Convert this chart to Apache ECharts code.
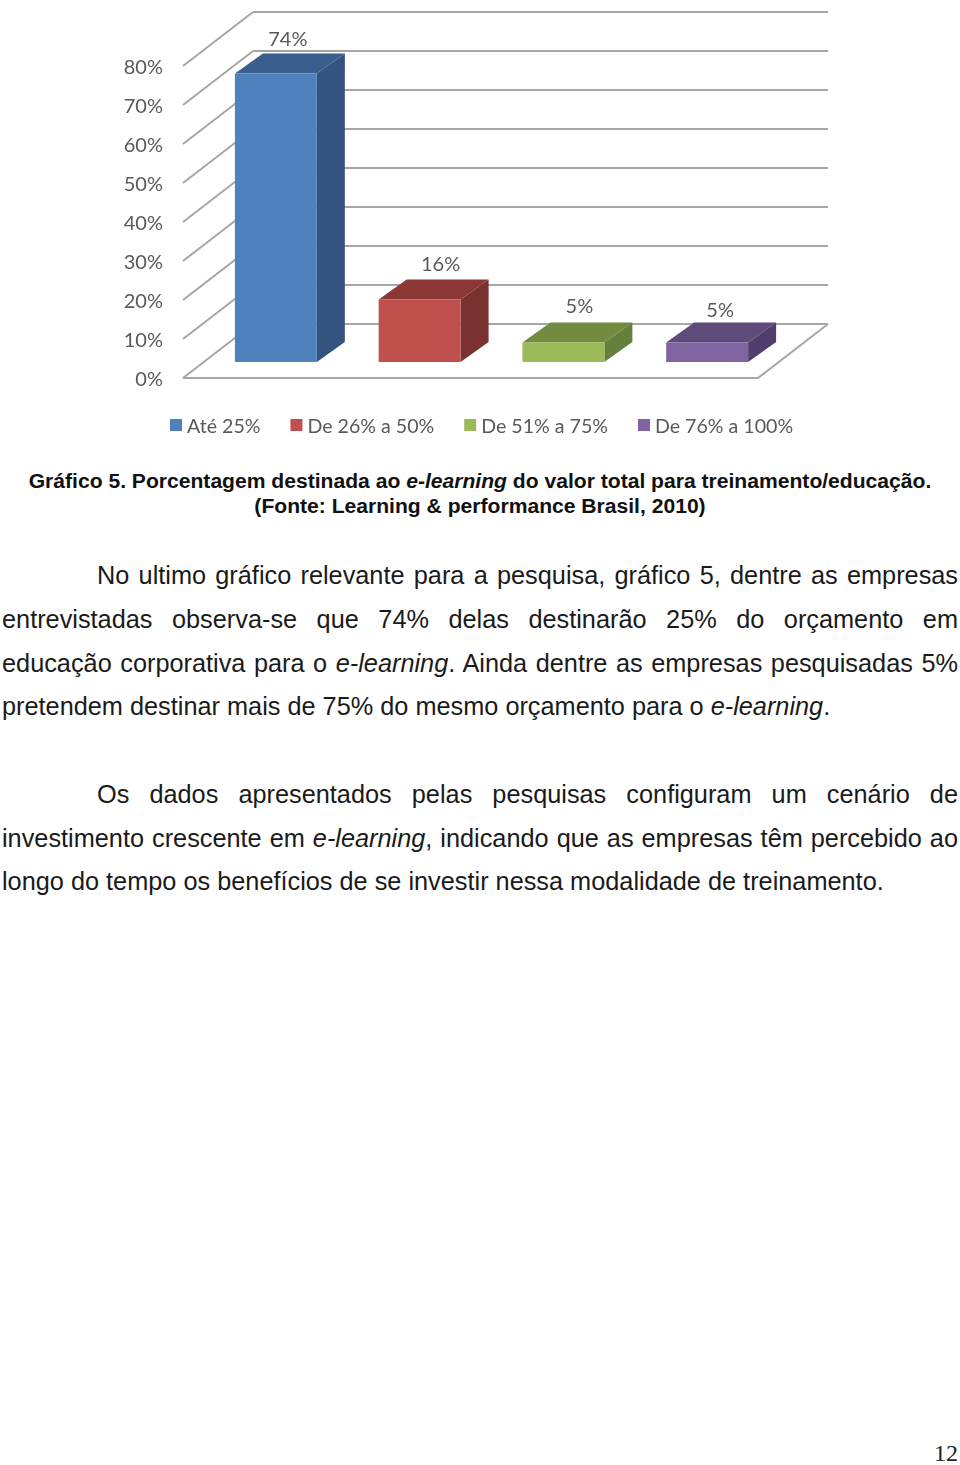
<!DOCTYPE html>
<html><head><meta charset="utf-8">
<script src="https://cdn.jsdelivr.net/npm/echarts@6/dist/echarts.min.js"></script>
<style>
html,body{margin:0;padding:0;background:#fff;width:960px;height:1465px;overflow:hidden}
#chart{position:absolute;left:0;top:0;width:960px;height:450px;filter:blur(0.5px)}
.l{position:absolute;left:2px;width:956px;font-family:"Liberation Sans",Arial,sans-serif;font-size:25.3px;line-height:30px;color:#1a1a1a;white-space:normal;text-align:justify;text-align-last:justify}
.n{text-align-last:left;white-space:nowrap}
.i{left:97px;width:861px}
.c{left:0;width:960px;font-weight:bold;font-size:21.1px;line-height:26px;text-align:center;text-align-last:center;white-space:nowrap;color:#111}
#pg{position:absolute;left:934px;top:1441px;font-family:"Liberation Serif",serif;font-size:24px;line-height:24px;color:#222}
</style></head><body>
<div id="chart"></div>
<div class="l c" style="top:468px">Gráfico 5. Porcentagem destinada ao <i>e-learning</i> do valor total para treinamento/educação.</div>
<div class="l c" style="top:493px">(Fonte: Learning &amp; performance Brasil, 2010)</div>
<div class="l i" style="top:560px">No ultimo gráfico relevante para a pesquisa, gráfico 5, dentre as empresas</div>
<div class="l" style="top:604px">entrevistadas observa-se que 74% delas destinarão 25% do orçamento em</div>
<div class="l" style="top:647.5px">educação corporativa para o <i>e-learning</i>. Ainda dentre as empresas pesquisadas 5%</div>
<div class="l n" style="top:691px">pretendem destinar mais de 75% do mesmo orçamento para o <i>e-learning</i>.</div>
<div class="l i" style="top:778.5px">Os dados apresentados pelas pesquisas configuram um cenário de</div>
<div class="l" style="top:822.5px">investimento crescente em <i>e-learning</i>, indicando que as empresas têm percebido ao</div>
<div class="l n" style="top:866px">longo do tempo os benefícios de se investir nessa modalidade de treinamento.</div>
<div id="pg">12</div>
<script>
const categories = ['Até 25%', 'De 26% a 50%', 'De 51% a 75%', 'De 76% a 100%'];
const values = [74, 16, 5, 5];
const axisTicks = [0, 10, 20, 30, 40, 50, 60, 70, 80];
const frontColors = ['#4F81BD', '#C0504D', '#9BBB59', '#8064A2'];
const topColors = ['#3A5F8F', '#8C3836', '#718C3F', '#5E4A7B'];
const sideColors = ['#34547F', '#7A3230', '#64803A', '#503D6E'];
const labelNudgesX = [-2, 7, 2, -1];
const labelNudgesY = [-1, -3, -4, 0];

const WALL_DX = 70, WALL_DY = 54;      // depth of the floor
const BAR_OFF_X = 21, BAR_OFF_Y = 16;  // bar front inset from the front plane
const BAR_DX = 28, BAR_DY = 20;        // depth of a bar
const BAR_RATIO = 0.57;
const GRID_COLOR = '#A6A6A6';
const LABEL_FONT = 'Lato, "Open Sans", sans-serif';

function wallItem(params, api) {
  const v = api.value(0);
  const r = params.coordSys;
  const y = api.coord([0, v])[1];
  const ls = { stroke: GRID_COLOR, lineWidth: 2, fill: null };
  const kids = [
    { type: 'line', shape: { x1: r.x, y1: y, x2: r.x + WALL_DX, y2: y - WALL_DY }, style: ls },
    { type: 'line', shape: { x1: r.x + WALL_DX, y1: y - WALL_DY, x2: r.x + r.width + WALL_DX, y2: y - WALL_DY }, style: ls }
  ];
  if (v === 0) {
    kids.push({ type: 'polyline', shape: { points: [[r.x, y], [r.x + r.width, y], [r.x + r.width + WALL_DX, y - WALL_DY]] }, style: ls });
  }
  return { type: 'group', children: kids };
}

function barItem(idx) {
  return function (params, api) {
    const c = api.coord([api.value(0), api.value(1)]);
    const base = api.coord([api.value(0), 0]);
    const w = api.size([1, 0])[0] * BAR_RATIO;
    const x0 = c[0] + BAR_OFF_X - w / 2, x1 = x0 + w;
    const yT = c[1] - BAR_OFF_Y, yB = base[1] - BAR_OFF_Y;
    return {
      type: 'group',
      children: [
        { type: 'polygon', shape: { points: [[x1, yT], [x1 + BAR_DX, yT - BAR_DY], [x1 + BAR_DX, yB - BAR_DY], [x1, yB]] }, style: { fill: sideColors[idx] } },
        { type: 'polygon', shape: { points: [[x0, yT], [x0 + BAR_DX, yT - BAR_DY], [x1 + BAR_DX, yT - BAR_DY], [x1, yT]] }, style: { fill: topColors[idx] } },
        { type: 'rect', shape: { x: x0, y: yT, width: w, height: yB - yT }, style: { fill: frontColors[idx] } },
        { type: 'text', style: {
            text: api.value(1) + '%', x: x0 + w / 2 + BAR_DX / 2 + labelNudgesX[idx], y: yT - BAR_DY - 14 + labelNudgesY[idx],
            align: 'center', verticalAlign: 'middle', fill: '#595959',
            font: '20px ' + LABEL_FONT
        } }
      ]
    };
  };
}

const barSeries = categories.map((name, i) => ({
  name, type: 'custom', z: 5,
  renderItem: barItem(i),
  itemStyle: { color: frontColors[i] },
  encode: { x: 0, y: 1 },
  data: [[i, values[i]]],
  animation: false
}));

const chart = echarts.init(document.getElementById('chart'), null, { renderer: 'svg' });
chart.setOption({
  animation: false,
  backgroundColor: '#fff',
  grid: { left: 183, top: 66, width: 575, height: 312, containLabel: false },
  legend: {
    data: categories, left: 165, top: 410, icon: 'rect',
    itemWidth: 12, itemHeight: 12, itemGap: 30,
    selectedMode: false,
    textStyle: { color: '#595959', fontSize: 19.6, fontFamily: LABEL_FONT }
  },
  xAxis: { type: 'category', data: categories.map((_, i) => i), show: false },
  yAxis: {
    type: 'value', min: 0, max: 80, interval: 10,
    axisLine: { show: false }, axisTick: { show: false }, splitLine: { show: false },
    axisLabel: { margin: 20, formatter: '{value}%', color: '#595959', fontSize: 20, fontFamily: LABEL_FONT }
  },
  series: [{
    type: 'custom', name: 'wall', z: 1, silent: true,
    renderItem: wallItem, encode: { y: 0 },
    data: axisTicks.map(t => [t])
  }].concat(barSeries)
});
</script>
</body></html>
